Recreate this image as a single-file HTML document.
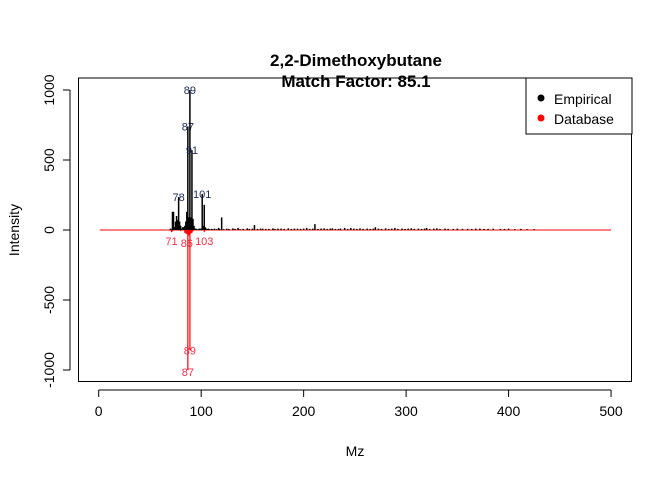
<!DOCTYPE html>
<html><head><meta charset="utf-8"><style>
body{margin:0;background:#fff}
svg{display:block;font-family:"Liberation Sans",Arial,sans-serif}
</style></head><body>
<svg id="chart" width="672" height="480" viewBox="0 0 672 480">
<g id="marks"></g>
<g id="axes"></g>
<text x="356" y="66" text-anchor="middle" font-weight="bold" font-size="17">2,2-Dimethoxybutane</text>
<text x="356" y="87" text-anchor="middle" font-weight="bold" font-size="17">Match Factor: 85.1</text>
<text x="355" y="456" text-anchor="middle" font-size="14">Mz</text>
<text x="19" y="230" text-anchor="middle" font-size="14" transform="rotate(-90 19 230)">Intensity</text>
<g>
<rect x="526" y="78" width="106" height="56" fill="#fff" stroke="#000"/>
<circle cx="541" cy="98" r="3.5" fill="#000"/>
<text x="554" y="104" font-size="14">Empirical</text>
<circle cx="541" cy="118" r="3.5" fill="#f00"/>
<text x="554" y="124" font-size="14">Database</text>
</g>
</svg>
<script>
const empMz = [70,71,72,73,74,75,76,77,78,79,80,81,82,83,84,85,86,87,88,89,90,91,92,93,94,95,96,97,98,99,100,101,102,103,104,105,106,107,108,110,111,113,115,117,118,120,122,125,127,131,133,136,138,141,145,147,150,152,155,158,160,163,166,170,172,175,178,181,185,188,191,194,197,200,203,206,209,211,214,217,220,223,226,228,231,234,236,240,243,246,249,252,255,258,262,265,268,270,273,276,280,283,286,289,292,296,299,302,305,308,312,315,318,320,323,327,330,333,338,341,346,350,355,360,364,368,372,376,380,385,392,396,400,406,412,418,425];
const empVal = [10,5,130,130,20,60,100,70,235,60,30,10,20,20,30,60,130,740,90,1000,90,570,80,30,10,10,5,5,10,10,10,257,30,180,20,10,8,10,6,8,6,10,6,15,8,90,6,10,8,12,8,15,6,8,12,8,10,35,8,10,10,8,8,12,8,10,10,8,12,8,10,10,8,10,15,8,10,42,8,10,12,8,10,12,8,8,10,15,8,15,10,8,12,8,10,8,10,20,10,8,12,8,10,15,8,10,8,10,12,8,10,8,10,15,8,10,12,8,10,8,8,10,8,8,8,10,10,8,8,10,8,8,10,6,8,6,6];
const empLabelMz = [89,87,91,78,101];
const dbMz = [71,72,80,84,85,86,87,88,89,90,91,92,103];
const dbVal = [-15,-10,-8,-20,-25,-30,-1000,-40,-860,-25,-20,-10,-15];
const dbLabelMz = [71,86,103,89,87];
const xTicks = [0,100,200,300,400,500];
const yTicks = [-1000,-500,0,500,1000];

const xs = v => 98.7 + v*1.0247;
const ys = v => 230 - v*0.14;
const NS='http://www.w3.org/2000/svg';
const marks=document.getElementById('marks'), axes=document.getElementById('axes');
function mk(tag,attrs,parent){const e=document.createElementNS(NS,tag);for(const k in attrs)e.setAttribute(k,attrs[k]);parent.appendChild(e);return e;}

const base=mk('line',{x1:xs(1),x2:xs(500),y1:ys(0),y2:ys(0),stroke:'#f00','stroke-width':1},marks);



empMz.forEach((m,i)=>{
  const l=mk('line',{x1:xs(m),x2:xs(m),y1:ys(0),y2:ys(empVal[i]),stroke:'#000','stroke-width':1.5},marks);
  
  
  if(empLabelMz.includes(m)){
    const t=mk('text',{x:xs(m),y:ys(empVal[i])+4,'text-anchor':'middle','font-size':11,fill:'#1a2a55'},marks);
    t.textContent=m;
    
    
  }
});
dbMz.forEach((m,i)=>{
  const l=mk('line',{x1:xs(m),x2:xs(m),y1:ys(0),y2:ys(dbVal[i]),stroke:'#f00','stroke-width':1.2},marks);
  
  
  if(dbLabelMz.includes(m)){
    const t=mk('text',{x:xs(m),y:ys(dbVal[i])+(m==87?6:(m==89?4:13)),'text-anchor':'middle','font-size':11,fill:'#f0304a'},marks);
    t.textContent=m;
    
    
  }
});

const box=mk('rect',{x:78.5,y:78,width:553,height:303.5,fill:'none',stroke:'#000'},axes);


const xa=mk('line',{x1:xs(0),x2:xs(500),y1:390,y2:390,stroke:'#000'},axes);


xTicks.forEach(v=>{
  const tk=mk('line',{x1:xs(v),x2:xs(v),y1:390,y2:397,stroke:'#000'},axes);
  
  
  const t=mk('text',{x:xs(v),y:416,'text-anchor':'middle','font-size':14},axes);
  t.textContent=v;
  
  
});
const ya=mk('line',{x1:70,x2:70,y1:ys(1000),y2:ys(-1000),stroke:'#000'},axes);


yTicks.forEach(v=>{
  const tk=mk('line',{x1:63,x2:70,y1:ys(v),y2:ys(v),stroke:'#000'},axes);
  
  
  const t=mk('text',{x:54,y:ys(v),'text-anchor':'middle','font-size':14,transform:`rotate(-90 54 ${ys(v)})`},axes);
  t.textContent=v;
  
  
});
</script>
</body></html>
